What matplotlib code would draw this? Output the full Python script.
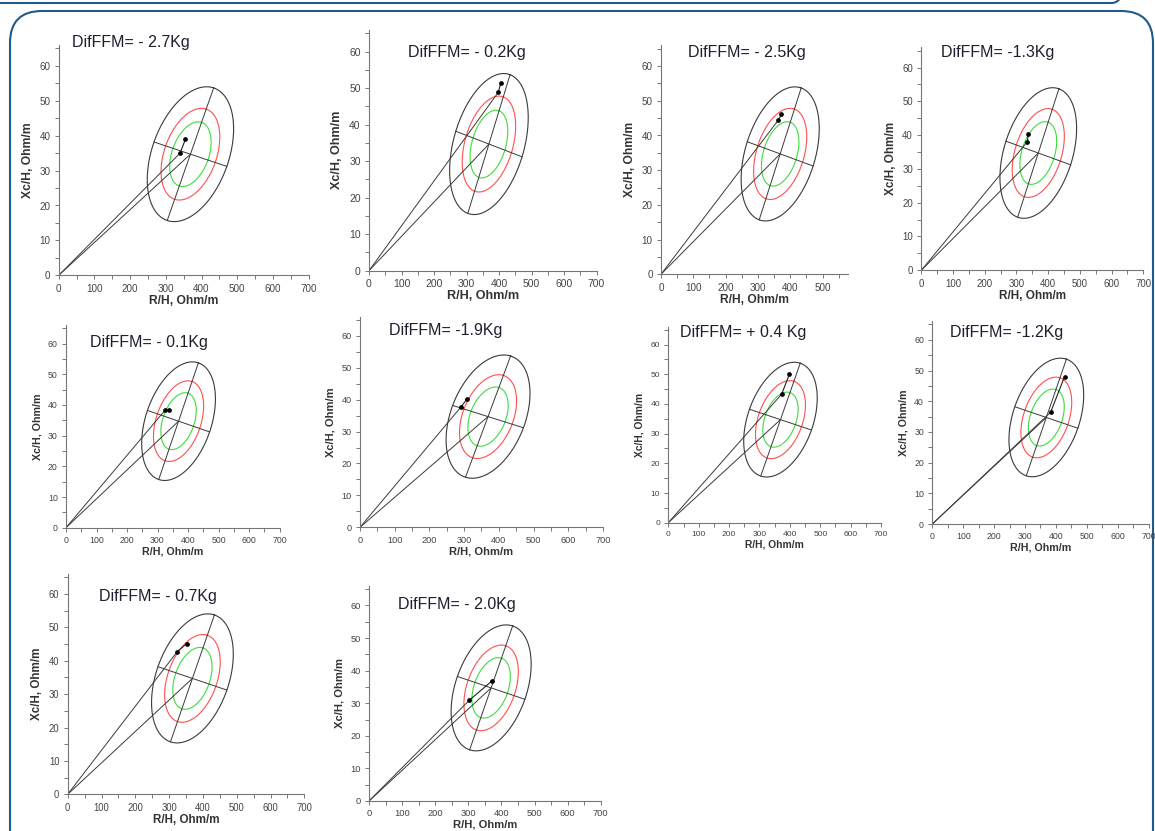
import numpy as np
import matplotlib
matplotlib.use("Agg")
import matplotlib.pyplot as plt
from matplotlib.patches import FancyBboxPatch

plt.rcParams['font.family'] = ['Liberation Sans', 'DejaVu Sans']

# panel titles
titles = ["DifFFM= - 2.7Kg", "DifFFM= - 0.2Kg", "DifFFM= - 2.5Kg", "DifFFM= -1.3Kg",
          "DifFFM= - 0.1Kg", "DifFFM= -1.9Kg", "DifFFM= + 0.4 Kg", "DifFFM= -1.2Kg",
          "DifFFM= - 0.7Kg", "DifFFM= - 2.0Kg"]

# two measurements per subject (R/H, Xc/H)
r1 = [340, 398, 363, 335, 326, 290, 373, 383, 324, 303]
xc1 = [35.0, 48.9, 44.4, 38.1, 38.4, 37.6, 43.3, 36.4, 42.7, 30.9]
r2 = [355, 405, 373, 337, 337, 309, 398, 428, 352, 371]
xc2 = [39.0, 51.3, 46.1, 40.4, 38.3, 40.3, 49.9, 48.0, 45.1, 36.8]

# reference tolerance ellipse (95%) : centre and half axes
ell_center = (369, 34.7)
ell_major = (65, 19.0)
ell_minor = (102, -3.5)
ell_levels = [1.0, 0.68, 0.48]   # 95%, 75%, 50%
ell_colors = ['#3a3a3a', '#ff4f4f', '#3fdc3f']

# layout: origin px, px per unit x, px per unit y, xmax
W, H = 1155, 831
layout = [
    (58.7, 275.3, 0.357, 3.49, 700),
    (369, 270.7, 0.325, 3.65, 700),
    (661, 274.3, 0.323, 3.47, 580),
    (921.3, 270.3, 0.317, 3.38, 700),
    (66, 527.7, 0.305, 3.07, 700),
    (360, 527.3, 0.347, 3.19, 700),
    (668.3, 522.7, 0.304, 2.97, 700),
    (932.3, 524, 0.309, 3.07, 700),
    (67.7, 794.3, 0.338, 3.34, 700),
    (369, 801, 0.331, 3.26, 700),
]
title_pos = [(72, 43), (408, 52), (688, 52), (941, 52), (90, 342),
             (389, 330), (680, 333), (950, 333), (99, 596), (398, 605)]

fig = plt.figure(figsize=(W / 100, H / 100), dpi=100)

# background frames
bg = fig.add_axes([0, 0, 1, 1])
bg.set_xlim(0, W)
bg.set_ylim(H, 0)
bg.axis('off')
bg.add_patch(FancyBboxPatch((-40, -200), 1180, 203, boxstyle="round,pad=0,rounding_size=28",
                            fill=False, ec='#1f5b8c', lw=1.5))
bg.add_patch(FancyBboxPatch((10, 11), 1143, 900, boxstyle="round,pad=0,rounding_size=32",
                            fill=False, ec='#1f5b8c', lw=1.5))

t = np.linspace(0, 2 * np.pi, 300)
cx, cy = ell_center
ymax = 66

for i in range(10):
    ox, oy, sx, sy, xmax = layout[i]
    ax = fig.add_axes([ox / W, 1 - oy / H, xmax * sx / W, ymax * sy / H])
    ax.set_xlim(0, xmax)
    ax.set_ylim(0, ymax)
    for s in ['top', 'right']:
        ax.spines[s].set_visible(False)
    for s in ['left', 'bottom']:
        ax.spines[s].set_color('#777777')
        ax.spines[s].set_linewidth(0.8)
    ax.set_xticks(range(0, xmax + 1, 100))
    ax.set_xticks(range(0, xmax + 1, 50), minor=True)
    ax.set_yticks(range(0, 61, 10))
    ax.set_yticks(range(0, 66, 5), minor=True)
    ax.tick_params(which='both', length=3, width=0.7, color='#777777', labelsize=2.05 * sy,
                   labelcolor='#444444', pad=3)
    ax.set_xlabel("R/H, Ohm/m", fontsize=2.5 * sy, fontweight='bold', color='#333333', labelpad=1)
    ax.set_ylabel("Xc/H, Ohm/m", fontsize=2.5 * sy, fontweight='bold', color='#333333', labelpad=4)
    ax.patch.set_alpha(0)

    for lev, col in zip(ell_levels, ell_colors):
        ex = cx + lev * (ell_major[0] * np.cos(t) + ell_minor[0] * np.sin(t))
        ey = cy + lev * (ell_major[1] * np.cos(t) + ell_minor[1] * np.sin(t))
        ax.plot(ex, ey, color=col, lw=0.8)
    ax.plot([cx - ell_major[0], cx + ell_major[0]], [cy - ell_major[1], cy + ell_major[1]],
            color='#3a3a3a', lw=0.7)
    ax.plot([cx - ell_minor[0], cx + ell_minor[0]], [cy - ell_minor[1], cy + ell_minor[1]],
            color='#3a3a3a', lw=0.7)

    # vectors from origin
    ax.plot([0, r1[i]], [0, xc1[i]], color='#3a3a3a', lw=0.7)
    ax.plot([0, cx], [0, cy], color='#3a3a3a', lw=0.7)
    ax.plot([r1[i], r2[i]], [xc1[i], xc2[i]], color='#222222', lw=0.8)
    ax.plot([r1[i], r2[i]], [xc1[i], xc2[i]], 'o', color='black', ms=2.4)

    tx, ty = title_pos[i]
    fig.text(tx / W, 1 - ty / H, titles[i], fontsize=11.5, color='#1e1e2e', va='center', ha='left')

fig.savefig("out.png", dpi=100)
